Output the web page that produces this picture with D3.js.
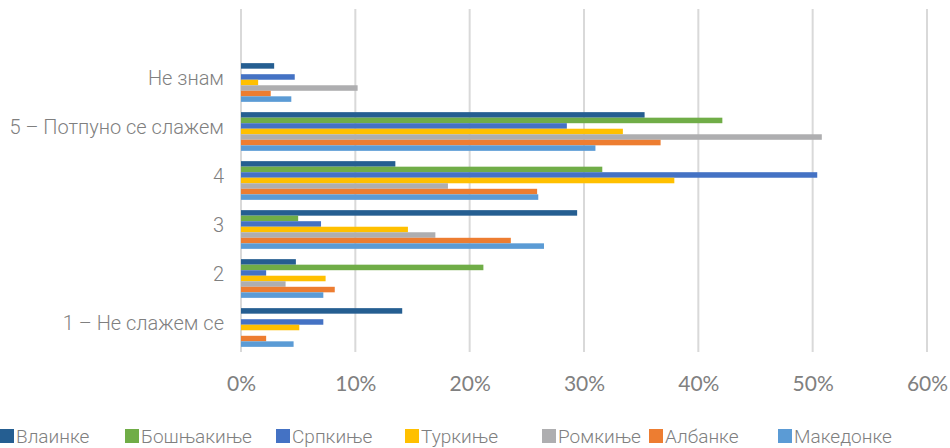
<!DOCTYPE html>
<html><head><meta charset="utf-8">
<script src="https://cdn.jsdelivr.net/npm/d3@7"></script>
<style>body{margin:0;background:#fff}svg{display:block}</style>
</head><body><svg id="c" width="950" height="448"></svg>
<script>
const categories = ["Не знам", "5 – Потпуно се слажем", "4", "3", "2", "1 – Не слажем се"];
const seriesNames = ["Влаинке", "Бошњакиње", "Српкиње", "Туркиње", "Ромкиње", "Албанке", "Македонке"];
const colors = ["#255E91", "#70AD47", "#4472C4", "#FFC000", "#AEAEB0", "#ED7D31", "#5B9BD5"];
// values in %, one array per series, in the order of categories
const vlainke    = [2.9, 35.3, 13.5, 29.4, 4.8, 14.1];
const bosnjakinje= [0,   42.1, 31.6, 5.0, 21.2, 0];
const srpkinje   = [4.7, 28.5, 50.4, 7.0, 2.2, 7.2];
const turkinje   = [1.5, 33.4, 37.9, 14.6, 7.4, 5.1];
const romkinje   = [10.2, 50.8, 18.1, 17.0, 3.9, 0];
const albanke    = [2.6, 36.7, 25.9, 23.6, 8.2, 2.2];
const makedonke  = [4.4, 31.0, 26.0, 26.5, 7.2, 4.6];
const seriesValues = [vlainke, bosnjakinje, srpkinje, turkinje, romkinje, albanke, makedonke];
const xTicks = [0, 10, 20, 30, 40, 50, 60];

const svg = d3.select("#c");
const mLeft = 241, mRight = 927, mTop = 9, mBottom = 352;

const x = d3.scaleLinear().domain([0, 60]).range([mLeft, mRight]);
const y = d3.scaleBand().domain(["", ...categories]).range([mTop, mBottom]).paddingInner(0.21).paddingOuter(0.105);
const yInner = d3.scaleBand().domain(d3.range(seriesNames.length)).range([0, y.bandwidth()]);

// gridlines
svg.append("g").selectAll("line").data(xTicks).join("line")
  .attr("x1", d => x(d)).attr("x2", d => x(d)).attr("y1", mTop).attr("y2", mBottom)
  .attr("stroke", "#D9D9D9").attr("stroke-width", 2);

// bars
const groups = svg.append("g").selectAll("g").data(categories).join("g")
  .attr("transform", d => `translate(0,${y(d)})`);
groups.selectAll("rect").data((c, ci) => seriesValues.map((s, si) => ({si, v: s[ci]})))
  .join("rect")
  .attr("x", x(0)).attr("y", d => yInner(d.si))
  .attr("width", d => x(d.v) - x(0)).attr("height", yInner.bandwidth())
  .attr("fill", d => colors[d.si]);

// y labels
svg.append("g").selectAll("text").data(categories).join("text")
  .attr("x", 224).attr("y", d => y(d) + y.bandwidth() / 2 - 5)
  .attr("dy", "0.36em").attr("text-anchor", "end")
  .attr("font-family", "Roboto").attr("font-weight", 300).attr("font-size", 20)
  .attr("fill", "#7F7F7F").text(d => d);

// x tick labels
const xAxis = d3.axisBottom(x).tickValues(xTicks).tickFormat(d => d + "%").tickSize(0).tickPadding(0);
const ax = svg.append("g").attr("transform", `translate(0,${mBottom + 24})`).call(xAxis);
ax.select(".domain").remove();
ax.selectAll("text").attr("font-family", "Lato").attr("font-size", 21).attr("fill", "#808080");

// legend
const legendX = [0, 125, 276, 405, 542, 649, 778];
const lg = svg.append("g").selectAll("g").data(seriesNames).join("g")
  .attr("transform", (d, i) => `translate(${legendX[i]},0)`);
lg.append("rect").attr("x", 0).attr("y", 429).attr("width", 14).attr("height", 14)
  .attr("fill", (d, i) => colors[i]);
lg.append("text").attr("x", 16).attr("y", 443)
  .attr("font-family", "Roboto").attr("font-weight", 300).attr("font-size", 19)
  .attr("fill", "#7F7F7F").text(d => d);
</script></body></html>
